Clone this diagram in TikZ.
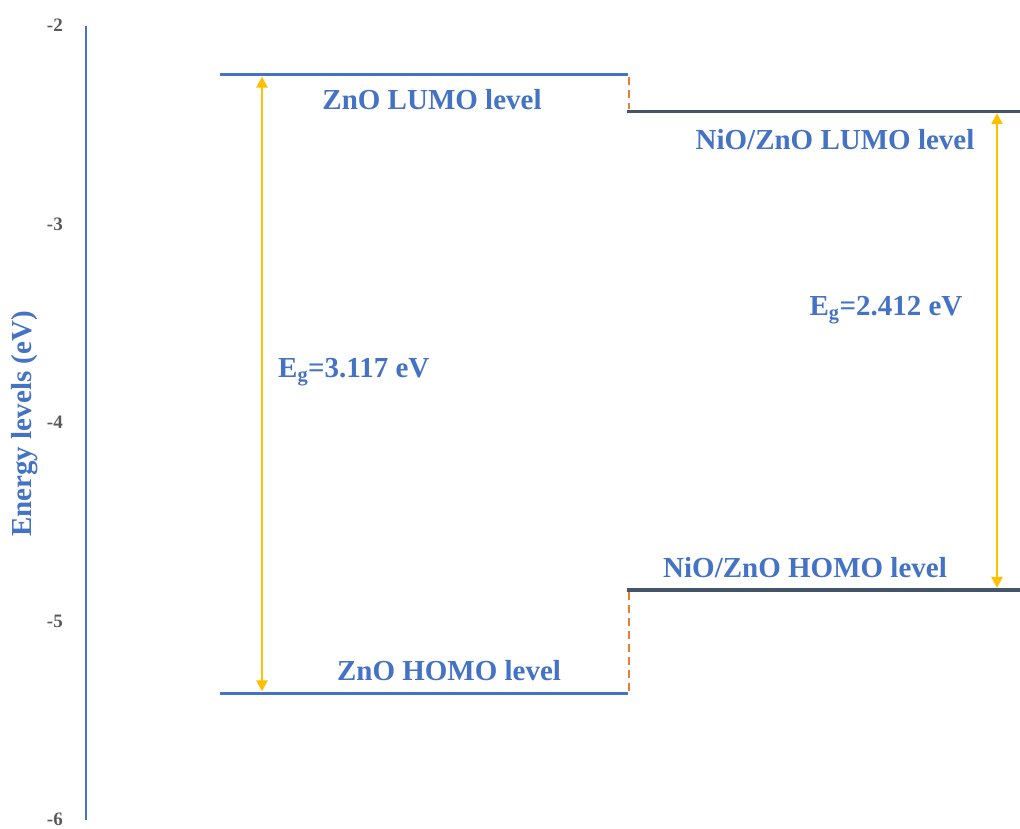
\documentclass[tikz,border=0pt]{standalone}
\usepackage{fontspec}
\setmainfont{Liberation Serif}
\usetikzlibrary{arrows.meta,positioning,calc}
\definecolor{LevelBlue}{HTML}{4472C4}
\definecolor{LevelDark}{HTML}{44546A}
\definecolor{Offset}{HTML}{ED7D31}
\definecolor{Gap}{HTML}{FFC000}
\definecolor{Tick}{HTML}{595959}
\tikzset{
  axisline/.style={draw=LevelBlue,line width=1.3pt},
  ticklabel/.style={anchor=east,inner sep=0pt,yshift=1.5pt,text=Tick,font=\bfseries\fontsize{19}{21}\selectfont},
  axistitle/.style={rotate=90,inner sep=0pt,text=LevelBlue,font=\bfseries\fontsize{29}{32}\selectfont},
  zlevel/.style={draw=LevelBlue,line width=2.8pt},
  nlevel/.style={draw=LevelDark,line width=3.2pt},
  offsetline/.style={draw=Offset,line width=2.2pt,dash pattern=on 8pt off 5pt},
  gaparrow/.style={{Triangle[length=11pt,width=11pt]}-{Triangle[length=11pt,width=11pt]},draw=Gap,fill=Gap,line width=2.5pt},
  levellabel/.style={inner sep=0pt,text=LevelBlue,font=\bfseries\fontsize{29}{32}\selectfont}
}

\begin{document}
\begin{tikzpicture}[x=1pt,y=198.5pt]
  \useasboundingbox (0pt,0pt) rectangle (1020pt,829pt);
  \begin{scope}[yshift=1199pt]
    % energy axis
    \coordinate (axtop) at (86,-1.995);
    \coordinate (axbot) at (86,-5.995);
    \draw[axisline] (axtop) -- (axbot);
    \foreach \e in {2,...,6}
      \node[ticklabel] (tick\e) at (63,-\e) {-\e};
    \node[axistitle] (ytitle) at (25,-4) {Energy levels (eV)};

    % ZnO levels
    \coordinate (zlumoL) at (220,-2.24);
    \coordinate (zlumoR) at (628,-2.24);
    \coordinate (zhomoL) at (220,-5.357);
    \coordinate (zhomoR) at (628,-5.357);
    \draw[zlevel] (zlumoL) -- (zlumoR);
    \draw[zlevel] (zhomoL) -- (zhomoR);

    % NiO/ZnO levels
    \coordinate (nlumoL) at (627,-2.424);
    \coordinate (nlumoR) at (1020,-2.424);
    \coordinate (nhomoL) at (627,-4.836);
    \coordinate (nhomoR) at (1020,-4.836);
    \draw[nlevel] (nlumoL) -- (nlumoR);
    \draw[nlevel] (nhomoL) -- (nhomoR);

    % band offsets
    \draw[offsetline] ($(zlumoR)+(1,-.01)$) -- ($(nlumoL)+(2,.01)$);
    \draw[offsetline] ($(nhomoL)+(2,-.01)$) -- ($(zhomoR)+(1,.01)$);

    % band gaps
    \coordinate (gapZt) at (262,-2.25);
    \coordinate (gapZb) at (262,-5.347);
    \coordinate (gapNt) at (997,-2.434);
    \coordinate (gapNb) at (997,-4.826);
    \draw[gaparrow] (gapZt) -- (gapZb);
    \draw[gaparrow] (gapNt) -- (gapNb);

    \node[levellabel] (zlumo) at (432,-2.368) {ZnO LUMO level};
    \node[levellabel] (zhomo) at (449,-5.244) {ZnO HOMO level};
    \node[levellabel] (nlumo) at (835,-2.569) {NiO/ZnO LUMO level};
    \node[levellabel] (nhomo) at (805,-4.725) {NiO/ZnO HOMO level};
    \node[levellabel,anchor=west] (egZ) at (278,-3.738) {E\textsubscript{g}=3.117 eV};
    \node[levellabel] (egN) at (886,-3.426) {E\textsubscript{g}=2.412 eV};
  \end{scope}
\end{tikzpicture}
\end{document}
